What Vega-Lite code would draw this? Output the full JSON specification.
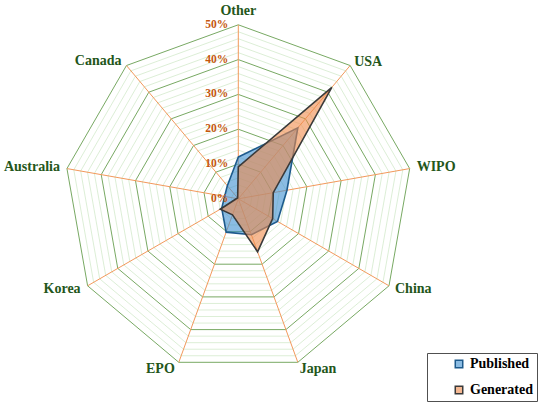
{
  "$schema": "https://vega.github.io/schema/vega-lite/v6.json",
  "width": 550,
  "height": 407,
  "padding": 0,
  "autosize": {"type": "none"},
  "background": "white",
  "config": {
    "view": {"stroke": null},
    "legend": {
      "orient": "none",
      "legendX": 427,
      "legendY": 353,
      "padding": 4,
      "strokeColor": "#505050",
      "fillColor": "white",
      "symbolType": "square",
      "symbolSize": 56,
      "symbolStrokeWidth": 1.5,
      "symbolOffset": 21,
      "labelOffset": 4,
      "rowPadding": 12,
      "labelFont": "Liberation Serif",
      "labelFontWeight": "bold",
      "labelFontSize": 14,
      "labelColor": "black"
    }
  },
  "datasets": {
    "cats": [
      {"cat": "Other", "k": 0},
      {"cat": "USA", "k": 1},
      {"cat": "WIPO", "k": 2},
      {"cat": "China", "k": 3},
      {"cat": "Japan", "k": 4},
      {"cat": "EPO", "k": 5},
      {"cat": "Korea", "k": 6},
      {"cat": "Australia", "k": 7},
      {"cat": "Canada", "k": 8}
    ],
    "rings": [
      {"ring": 0, "k": 0}, {"ring": 2, "k": 0}, {"ring": 4, "k": 0}, {"ring": 6, "k": 0},
      {"ring": 8, "k": 0}, {"ring": 10, "k": 0}, {"ring": 12, "k": 0}, {"ring": 14, "k": 0},
      {"ring": 16, "k": 0}, {"ring": 18, "k": 0}, {"ring": 20, "k": 0}, {"ring": 22, "k": 0},
      {"ring": 24, "k": 0}, {"ring": 26, "k": 0}, {"ring": 28, "k": 0}, {"ring": 30, "k": 0},
      {"ring": 32, "k": 0}, {"ring": 34, "k": 0}, {"ring": 36, "k": 0}, {"ring": 38, "k": 0},
      {"ring": 40, "k": 0}, {"ring": 42, "k": 0}, {"ring": 44, "k": 0}, {"ring": 46, "k": 0},
      {"ring": 48, "k": 0}, {"ring": 50, "k": 0}
    ],
    "shares": [
      {"cat": "Other", "series": "Published", "share": 12},
      {"cat": "USA", "series": "Published", "share": 26.6},
      {"cat": "WIPO", "series": "Published", "share": 14.2},
      {"cat": "China", "series": "Published", "share": 13},
      {"cat": "Japan", "series": "Published", "share": 11},
      {"cat": "EPO", "series": "Published", "share": 10.2},
      {"cat": "Korea", "series": "Published", "share": 5.5},
      {"cat": "Australia", "series": "Published", "share": 4},
      {"cat": "Canada", "series": "Published", "share": 4.9},
      {"cat": "Other", "series": "Generated", "share": 9.2},
      {"cat": "USA", "series": "Generated", "share": 41.8},
      {"cat": "WIPO", "series": "Generated", "share": 10.2},
      {"cat": "China", "series": "Generated", "share": 11.4},
      {"cat": "Japan", "series": "Generated", "share": 16.2},
      {"cat": "EPO", "series": "Generated", "share": 4.9},
      {"cat": "Korea", "series": "Generated", "share": 6},
      {"cat": "Australia", "series": "Generated", "share": 0.5},
      {"cat": "Canada", "series": "Generated", "share": 0.3}
    ]
  },
  "encoding": {
    "x": {
      "field": "px",
      "type": "quantitative",
      "scale": {"domain": [-68.48, 89.57], "nice": false, "zero": false},
      "axis": null
    },
    "y": {
      "field": "py",
      "type": "quantitative",
      "scale": {"domain": [-59.83, 57.13], "nice": false, "zero": false},
      "axis": null
    }
  },
  "layer": [
    {
      "data": {"name": "rings"},
      "transform": [
        {"impute": "fill_k", "key": "k", "keyvals": [0, 1, 2, 3, 4, 5, 6, 7, 8], "groupby": ["ring"], "value": 0},
        {"filter": "datum.ring > 0 && datum.ring % 10 != 0"},
        {"calculate": "datum.ring * sin(datum.k * 2 * PI / 9)", "as": "px"},
        {"calculate": "datum.ring * cos(datum.k * 2 * PI / 9)", "as": "py"}
      ],
      "mark": {"type": "line", "interpolate": "linear-closed", "strokeWidth": 0.8, "color": "#d3eacb"},
      "encoding": {
        "detail": {"field": "ring", "type": "nominal"},
        "order": {"field": "k", "type": "quantitative"}
      }
    },
    {
      "data": {"name": "rings"},
      "transform": [
        {"impute": "fill_k", "key": "k", "keyvals": [0, 1, 2, 3, 4, 5, 6, 7, 8], "groupby": ["ring"], "value": 0},
        {"filter": "datum.ring > 0 && datum.ring % 10 == 0"},
        {"calculate": "datum.ring * sin(datum.k * 2 * PI / 9)", "as": "px"},
        {"calculate": "datum.ring * cos(datum.k * 2 * PI / 9)", "as": "py"}
      ],
      "mark": {"type": "line", "interpolate": "linear-closed", "strokeWidth": 1, "color": "#78a963"},
      "encoding": {
        "detail": {"field": "ring", "type": "nominal"},
        "order": {"field": "k", "type": "quantitative"}
      }
    },
    {
      "data": {"name": "cats"},
      "transform": [
        {"calculate": "50 * sin(datum.k * 2 * PI / 9)", "as": "px"},
        {"calculate": "50 * cos(datum.k * 2 * PI / 9)", "as": "py"}
      ],
      "mark": {"type": "rule", "color": "#f2995c", "strokeWidth": 1},
      "encoding": {
        "x": {"datum": 0, "type": "quantitative"},
        "y": {"datum": 0, "type": "quantitative"},
        "x2": {"field": "px"},
        "y2": {"field": "py"}
      }
    },
    {
      "data": {"name": "shares"},
      "transform": [
        {"filter": "datum.series == 'Published'"},
        {"lookup": "cat", "from": {"data": {"name": "cats"}, "key": "cat", "fields": ["k"]}},
        {"calculate": "datum.share * sin(datum.k * 2 * PI / 9)", "as": "px"},
        {"calculate": "datum.share * cos(datum.k * 2 * PI / 9)", "as": "py"}
      ],
      "mark": {"type": "line", "interpolate": "linear-closed", "fillOpacity": 0.6, "strokeWidth": 1.6},
      "encoding": {
        "order": {"field": "k", "type": "quantitative"},
        "fill": {
          "field": "series",
          "type": "nominal",
          "scale": {"domain": ["Published", "Generated"], "range": ["#3d8fd0", "#f08a4b"]},
          "legend": {"title": null, "labelExpr": "datum.label + '\u00a0\u00a0\u00a0\u00a0\u00a0'", "encode": {"symbols": {"update": {"fillOpacity": {"value": 0.6}}}}}
        },
        "stroke": {
          "field": "series",
          "type": "nominal",
          "scale": {"domain": ["Published", "Generated"], "range": ["#1d5a8c", "#3a3a3a"]},
          "legend": {"title": null, "labelExpr": "datum.label + '\u00a0\u00a0\u00a0\u00a0\u00a0'", "encode": {"symbols": {"update": {"fillOpacity": {"value": 0.6}}}}}
        }
      }
    },
    {
      "data": {"name": "shares"},
      "transform": [
        {"filter": "datum.series == 'Generated'"},
        {"lookup": "cat", "from": {"data": {"name": "cats"}, "key": "cat", "fields": ["k"]}},
        {"calculate": "datum.share * sin(datum.k * 2 * PI / 9)", "as": "px"},
        {"calculate": "datum.share * cos(datum.k * 2 * PI / 9)", "as": "py"}
      ],
      "mark": {"type": "line", "interpolate": "linear-closed", "fillOpacity": 0.6, "strokeWidth": 1.6},
      "encoding": {
        "order": {"field": "k", "type": "quantitative"},
        "fill": {"field": "series", "type": "nominal"},
        "stroke": {"field": "series", "type": "nominal"}
      }
    },
    {
      "data": {"name": "rings"},
      "transform": [
        {"filter": "datum.ring % 10 == 0"},
        {"calculate": "0", "as": "px"},
        {"calculate": "datum.ring", "as": "py"},
        {"calculate": "datum.ring + '%'", "as": "lbl"}
      ],
      "mark": {
        "type": "text",
        "align": "right",
        "baseline": "middle",
        "dx": -10,
        "font": "Liberation Serif",
        "fontWeight": "bold",
        "fontSize": 11.5,
        "color": "#c5560d"
      },
      "encoding": {"text": {"field": "lbl"}}
    },
    {
      "data": {"name": "cats"},
      "transform": [
        {"calculate": "50 * sin(datum.k * 2 * PI / 9)", "as": "px"},
        {"calculate": "50 * cos(datum.k * 2 * PI / 9)", "as": "py"}
      ],
      "mark": {
        "type": "text",
        "baseline": "middle",
        "font": "Liberation Serif",
        "fontWeight": "bold",
        "fontSize": 14,
        "color": "#24561a",
        "align": {"expr": "datum.k == 0 ? 'center' : (datum.k <= 4 ? 'left' : 'right')"},
        "dx": {"expr": "datum.cat == 'USA' ? 4 : datum.cat == 'WIPO' ? 7 : datum.cat == 'China' ? 6 : datum.cat == 'Japan' ? 2 : datum.cat == 'EPO' ? -4 : datum.cat == 'Korea' ? -7 : datum.cat == 'Australia' ? -7 : datum.cat == 'Canada' ? -5 : 0"},
        "dy": {"expr": "datum.cat == 'Other' ? -14 : datum.cat == 'USA' ? -4 : datum.cat == 'WIPO' ? -2 : datum.cat == 'China' ? 3 : datum.cat == 'Japan' ? 7 : datum.cat == 'EPO' ? 7 : datum.cat == 'Korea' ? 3 : datum.cat == 'Australia' ? -2 : -5"}
      },
      "encoding": {"text": {"field": "cat"}}
    }
  ]
}
